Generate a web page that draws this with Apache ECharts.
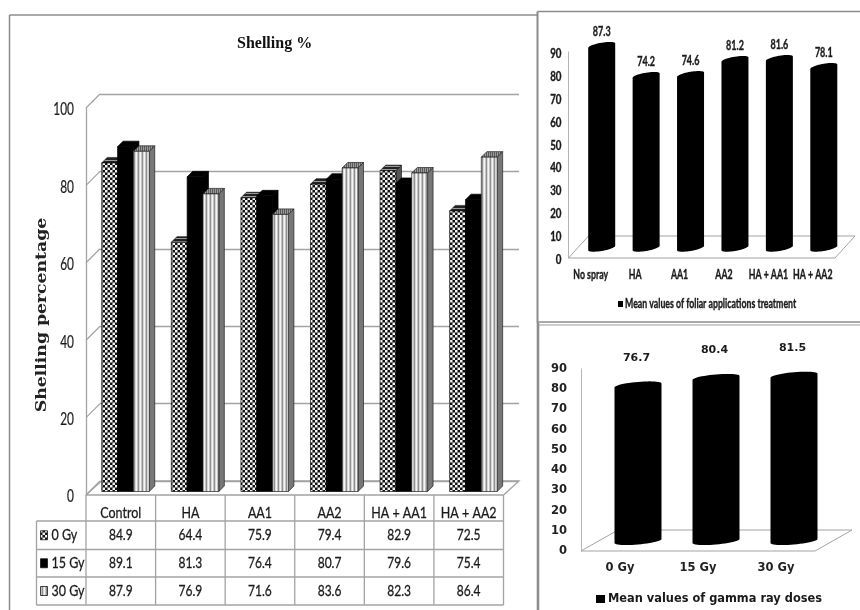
<!DOCTYPE html>
<html>
<head>
<meta charset="utf-8">
<style>html,body{margin:0;padding:0;background:#fff}#chart{width:860px;height:610px}</style>
<script src="https://cdn.jsdelivr.net/npm/echarts@6/dist/echarts.min.js"></script>
</head>
<body>
<div id="chart"></div>
<script>
const treatments = ['Control', 'HA', 'AA1', 'AA2', 'HA + AA1', 'HA + AA2'];
const doses = ['0 Gy', '15 Gy', '30 Gy'];
const gy0 = [84.9, 64.4, 75.9, 79.4, 82.9, 72.5];
const gy15 = [89.1, 81.3, 76.4, 80.7, 79.6, 75.4];
const gy30 = [87.9, 76.9, 71.6, 83.6, 82.3, 86.4];
const mainTicks = [0, 20, 40, 60, 80, 100];

const foliarCats = ['No spray', 'HA', 'AA1', 'AA2', 'HA + AA1', 'HA + AA2'];
const foliarMeans = [87.3, 74.2, 74.6, 81.2, 81.6, 78.1];
const foliarTicks = [0, 10, 20, 30, 40, 50, 60, 70, 80, 90];
const gammaCats = ['0 Gy', '15 Gy', '30 Gy'];
const gammaMeans = [76.7, 80.4, 81.5];

const CALIBRI = 'Lato, sans-serif';
const LINE = '#a3a3a3';
const INK = '#1a1a1a';

// fill patterns for the 3D columns
function makeTile(w, h, draw) {
    const c = document.createElement('canvas');
    c.width = w;
    c.height = h;
    draw(c.getContext('2d'));
    return { image: c, repeat: 'repeat' };
}
const checker = makeTile(5, 5, ctx => {
    ctx.fillStyle = '#111';
    ctx.fillRect(0, 0, 5, 5);
    ctx.fillStyle = '#f5f5f5';
    ctx.fillRect(0, 0, 2.5, 2.5);
    ctx.fillRect(2.5, 2.5, 2.5, 2.5);
});
const stripes = makeTile(4, 1, ctx => {
    ['#f5f5f5', '#c4c4c4', '#8f8f8f', '#d8d8d8'].forEach((col, i) => {
        ctx.fillStyle = col;
        ctx.fillRect(i, 0, 1, 1);
    });
});
const topHatch = makeTile(2, 2, ctx => {
    ctx.fillStyle = '#9a9a9a';
    ctx.fillRect(0, 0, 2, 2);
    ctx.fillStyle = '#5a5a5a';
    ctx.fillRect(0, 0, 1, 2);
});
const darkHatch = makeTile(1, 3, ctx => {
    ctx.fillStyle = '#222';
    ctx.fillRect(0, 0, 1, 3);
    ctx.fillStyle = '#999';
    ctx.fillRect(0, 1, 1, 1);
});

const barStyles = [
    { front: checker, top: darkHatch, side: '#555', stroke: '#111' },
    { front: '#000', top: '#000', side: '#000', stroke: '#000' },
    { front: stripes, top: topHatch, side: '#777', stroke: '#222' }
];

function boxBars(k) {
    const st = barStyles[k];
    return function (params, api) {
        const top = api.coord([api.value(0), api.value(1)]);
        const bottom = api.coord([api.value(0), 0]);
        const w = api.size([1, 0])[0] * 0.2275;
        const x0 = top[0] + 4.7 + (k - 1.5) * w;
        const x1 = x0 + w;
        const yTop = top[1] - 3.5;
        const yBot = bottom[1] - 3.5;
        const d = 5.5;
        const line = { stroke: st.stroke, lineWidth: 0.7 };
        return {
            type: 'group',
            children: [
                { type: 'polygon', shape: { points: [[x1, yTop], [x1 + d, yTop - d], [x1 + d, yBot - d], [x1, yBot]] }, style: { fill: st.side, ...line } },
                { type: 'polygon', shape: { points: [[x0, yTop], [x0 + d, yTop - d], [x1 + d, yTop - d], [x1, yTop]] }, style: { fill: st.top, ...line } },
                { type: 'rect', shape: { x: x0, y: yTop, width: w, height: yBot - yTop }, style: { fill: st.front, ...line } }
            ]
        };
    };
}

// left wall ticks running back from the front axis
function wallTicks(params, api) {
    const p = api.coord([0, api.value(0)]);
    const left = p[0] - api.size([1, 0])[0] / 2;
    return { type: 'line', shape: { x1: left, y1: p[1], x2: left + 14, y2: p[1] - 14 }, style: { stroke: LINE, lineWidth: 1.3 } };
}

function floorLines(dx, dy, width) {
    return function (params, api) {
        if (params.dataIndex !== 0) return null;
        const a = api.coord([0, 0]);
        const n = params.dataInsideLength;
        const w = api.size([1, 0])[0];
        const x0 = a[0] - w / 2;
        const x1 = x0 + n * w;
        const y = a[1];
        return {
            type: 'polyline',
            shape: { points: [[x0, y], [x0 + dx, y - dy], [x1 + dx, y - dy], [x1, y], [x0, y]] },
            style: { stroke: LINE, lineWidth: width, fill: null }
        };
    };
}

function cylinders(o) {
    return function (params, api) {
        const top = api.coord([api.value(0), api.value(1)]);
        const bottom = api.coord([api.value(0), 0]);
        const cx = top[0] + o.dx;
        const yT = top[1] - o.lift - o.extra;
        const yB = bottom[1] - o.lift;
        const pts = [];
        for (let i = 0; i <= 24; i++) {
            const t = Math.PI + i / 24 * Math.PI;
            pts.push([cx + o.rx * Math.cos(t), yT + o.ry * Math.sin(t) - o.skew * Math.cos(t)]);
        }
        for (let i = 0; i <= 24; i++) {
            const t = i / 24 * Math.PI;
            pts.push([cx + o.rx * Math.cos(t), yB + o.ry * Math.sin(t) - o.skew * Math.cos(t)]);
        }
        return {
            type: 'group',
            children: [
                { type: 'polygon', shape: { points: pts }, style: { fill: '#000' } },
                {
                    type: 'text',
                    x: cx + o.labelDx, y: yT - o.labelGap, scaleX: o.labelScale,
                    style: {
                        text: String(api.value(1)),
                        textAlign: 'center', textVerticalAlign: 'middle',
                        font: o.labelFont, fill: INK, stroke: INK, lineWidth: o.labelStroke
                    }
                }
            ]
        };
    };
}

// condensed axis text: the axis label option has no horizontal squeeze, so these go through custom series
function valueLabels(font, scale, gap, strokeW) {
    return function (params, api) {
        const p = api.coord([0, api.value(0)]);
        const left = p[0] - api.size([1, 0])[0] / 2;
        return {
            type: 'text', x: left - gap, y: p[1] + 2, scaleX: scale,
            style: { text: String(api.value(0)), font, fill: INK, stroke: INK, lineWidth: strokeW, textAlign: 'right', textVerticalAlign: 'middle' }
        };
    };
}
function categoryLabels(names, font, scale, gap, strokeW) {
    return function (params, api) {
        const p = api.coord([api.value(0), 0]);
        return {
            type: 'text', x: p[0], y: p[1] + gap, scaleX: scale,
            style: { text: names[api.value(0)], font, fill: INK, stroke: INK, lineWidth: strokeW, textAlign: 'center', textVerticalAlign: 'middle' }
        };
    };
}

// frame lines and the table under the main chart
const graphics = [];
function addLine(x1, y1, x2, y2, color, width) {
    graphics.push({ type: 'line', silent: true, z: 1, shape: { x1, y1, x2, y2 }, style: { stroke: color, lineWidth: width } });
}
function addText(x, y, text, font, align, scale, strokeW) {
    graphics.push({
        type: 'text', silent: true, z: 5, x, y, scaleX: scale || 1,
        style: { text, font, fill: INK, stroke: INK, lineWidth: strokeW || 0, textAlign: align || 'center', textVerticalAlign: 'middle' }
    });
}

addLine(9.5, 15, 537, 15, '#8c8c8c', 1.5);
addLine(9.5, 15, 9.5, 610, '#8c8c8c', 1.5);
addLine(537.5, 11.5, 860, 11.5, '#8c8c8c', 1.5);
addLine(537.5, 11.5, 537.5, 323, '#8c8c8c', 2);
addLine(538, 323, 538, 610, '#8c8c8c', 2.6);
addLine(538, 322, 860, 322, '#8c8c8c', 1.5);
addLine(538, 325, 860, 325, '#9c9c9c', 1.2);

const tableLeft = 86;
const tableRight = 503.5;
const colW = (tableRight - tableLeft) / treatments.length;
const rowY = [521, 549.5, 577, 605];
const tableFont = '16px ' + CALIBRI;
for (let i = 0; i <= treatments.length; i++) {
    addLine(tableLeft + i * colW, 495, tableLeft + i * colW, 605, LINE, 1.3);
}
rowY.forEach(y => addLine(36.5, y, tableRight, y, LINE, 1.3));
addLine(36.5, rowY[0], 36.5, 605, LINE, 1.3);
[gy0, gy15, gy30].forEach((vals, r) => {
    const y = (rowY[r] + rowY[r + 1]) / 2;
    vals.forEach((v, c) => addText(tableLeft + (c + 0.5) * colW, y, v.toFixed(1), tableFont, 'center', 0.75, 0.3));
    addText(51.5, y, doses[r], tableFont, 'left', 0.78, 0.3);
    graphics.push({
        type: 'rect', silent: true, z: 5,
        shape: { x: 40.5, y: y - 4.5, width: 7, height: 9 },
        style: { fill: barStyles[r].front, stroke: '#111', lineWidth: 0.8 }
    });
});

graphics.push({
    type: 'text', silent: true, z: 5, x: 42, y: 315, rotation: Math.PI / 2, scaleX: 1.19,
    style: { text: 'Shelling percentage', font: 'bold 14.5px "DejaVu Serif", serif', fill: '#222', textAlign: 'center', textVerticalAlign: 'middle' }
});

// legends of the two small charts
graphics.push({ type: 'rect', silent: true, z: 5, shape: { x: 618, y: 301, width: 5, height: 6 }, style: { fill: '#000' } });
addText(625, 304, 'Mean values of foliar applications treatment', 'bold 12.5px ' + CALIBRI, 'left', 0.7, 0.35);
graphics.push({ type: 'rect', silent: true, z: 5, shape: { x: 596, y: 595, width: 9, height: 8 }, style: { fill: '#000' } });
addText(608, 599, 'Mean values of gamma ray doses', 'bold 11.4px "DejaVu Sans", sans-serif', 'left');

const hiddenAxis = { show: false };

const option = {
    animation: false,
    backgroundColor: '#fff',
    title: {
        text: 'Shelling %',
        left: 232,
        top: 31,
        textStyle: { fontFamily: '"Liberation Serif", serif', fontWeight: 'bold', fontSize: 16, color: '#111' }
    },
    grid: [
        { left: 86, top: 108, width: 417.5, height: 387 },
        { left: 100, top: 94, width: 419, height: 387 },
        { left: 568.5, top: 52, width: 266.5, height: 206 },
        { left: 581, top: 369, width: 234, height: 182 }
    ],
    xAxis: [
        {
            gridIndex: 0, type: 'category', data: treatments,
            axisLine: { show: false }, axisTick: { show: false }, axisLabel: { show: false }
        },
        { gridIndex: 1, type: 'category', data: treatments, ...hiddenAxis },
        {
            gridIndex: 2, type: 'category', data: foliarCats,
            axisLine: { show: false }, axisTick: { show: false }, axisLabel: { show: false }
        },
        {
            gridIndex: 3, type: 'category', data: gammaCats,
            axisLine: { show: false }, axisTick: { show: false },
            axisLabel: { margin: 11, fontFamily: '"DejaVu Sans", sans-serif', fontWeight: 'bold', fontSize: 11.5, color: '#222', interval: 0 }
        }
    ],
    yAxis: [
        {
            gridIndex: 0, type: 'value', min: 0, max: 100, interval: 20,
            axisLine: { show: true, lineStyle: { color: LINE, width: 1.3 } },
            axisTick: { show: false }, splitLine: { show: false }, axisLabel: { show: false }
        },
        {
            gridIndex: 1, type: 'value', min: 0, max: 100, interval: 20,
            axisLine: { show: false }, axisTick: { show: false }, axisLabel: { show: false },
            splitLine: { show: true, lineStyle: { color: LINE, width: 1.3 } }
        },
        {
            gridIndex: 2, type: 'value', min: 0, max: 90, interval: 10,
            axisLine: { show: true, lineStyle: { color: '#b5b5b5', width: 1 } },
            axisTick: { show: false }, splitLine: { show: false }, axisLabel: { show: false }
        },
        {
            gridIndex: 3, type: 'value', min: 0, max: 90, interval: 10,
            axisLine: { show: true, lineStyle: { color: '#b5b5b5', width: 1 } },
            axisTick: { show: false }, splitLine: { show: false },
            axisLabel: { margin: 14, fontFamily: '"DejaVu Sans", sans-serif', fontWeight: 'bold', fontSize: 11.5, color: '#222' }
        }
    ],
    series: [
        {
            type: 'custom', name: 'wall', xAxisIndex: 0, yAxisIndex: 0, z: 1,
            data: mainTicks.map(v => [v]), encode: { y: 0 }, renderItem: wallTicks, silent: true
        },
        {
            type: 'custom', name: 'main ticks', xAxisIndex: 0, yAxisIndex: 0, z: 6,
            data: mainTicks.map(v => [v]), encode: { y: 0 },
            renderItem: valueLabels('16.5px ' + CALIBRI, 0.72, 12, 0.2), silent: true
        },
        {
            type: 'custom', name: 'main categories', xAxisIndex: 0, yAxisIndex: 0, z: 6,
            data: treatments.map((t, i) => [i]), encode: { x: 0 },
            renderItem: categoryLabels(treatments, '16px ' + CALIBRI, 0.78, 17.5, 0.3), silent: true
        },
        {
            type: 'custom', name: 'floor', xAxisIndex: 0, yAxisIndex: 0, z: 1,
            data: treatments.map((t, i) => [i, 0]), encode: { x: 0, y: 1 },
            renderItem: floorLines(15.5, 14, 1.3), silent: true
        },
        ...[gy0, gy15, gy30].map((vals, k) => ({
            type: 'custom', name: doses[k], xAxisIndex: 0, yAxisIndex: 0, z: 3 + k,
            data: vals.map((v, i) => [i, v]), encode: { x: 0, y: 1 },
            renderItem: boxBars(k), silent: true
        })),
        {
            type: 'custom', name: 'floor2', xAxisIndex: 2, yAxisIndex: 2, z: 1,
            data: foliarCats.map((t, i) => [i, 0]), encode: { x: 0, y: 1 },
            renderItem: floorLines(20, 22, 1), silent: true
        },
        {
            type: 'custom', name: 'foliar ticks', xAxisIndex: 2, yAxisIndex: 2, z: 6,
            data: foliarTicks.map(v => [v]), encode: { y: 0 },
            renderItem: valueLabels('bold 12.5px ' + CALIBRI, 0.78, 7, 0.35), silent: true
        },
        {
            type: 'custom', name: 'foliar categories', xAxisIndex: 2, yAxisIndex: 2, z: 6,
            data: foliarCats.map((t, i) => [i]), encode: { x: 0 },
            renderItem: categoryLabels(foliarCats, 'bold 12.5px ' + CALIBRI, 0.7, 17, 0.35), silent: true
        },
        {
            type: 'custom', name: 'Mean values of foliar applications treatment', xAxisIndex: 2, yAxisIndex: 2, z: 3,
            itemStyle: { color: '#000' },
            data: foliarMeans.map((v, i) => [i, v]), encode: { x: 0, y: 1 },
            renderItem: cylinders({
                dx: 11, lift: 10, extra: 2.5, rx: 13.5, ry: 3, skew: 2.2, labelDx: 0, labelGap: 14,
                labelFont: 'bold 12.5px ' + CALIBRI, labelScale: 0.72, labelStroke: 0.35
            }),
            silent: true
        },
        {
            type: 'custom', name: 'floor3', xAxisIndex: 3, yAxisIndex: 3, z: 1,
            data: gammaCats.map((t, i) => [i, 0]), encode: { x: 0, y: 1 },
            renderItem: floorLines(37, 21, 1), silent: true
        },
        {
            type: 'custom', name: 'Mean values of gamma ray doses', xAxisIndex: 3, yAxisIndex: 3, z: 3,
            itemStyle: { color: '#000' },
            data: gammaMeans.map((v, i) => [i, v]), encode: { x: 0, y: 1 },
            renderItem: cylinders({
                dx: 18, lift: 10, extra: 0.5, rx: 23.5, ry: 3.5, skew: 2, labelDx: -1.5, labelGap: 27.5,
                labelFont: 'bold 11px "DejaVu Sans", sans-serif', labelScale: 1, labelStroke: 0
            }),
            silent: true
        }
    ],
    graphic: { elements: graphics }
};

const myChart = echarts.init(document.getElementById('chart'));
myChart.setOption(option);
</script>
</body>
</html>
